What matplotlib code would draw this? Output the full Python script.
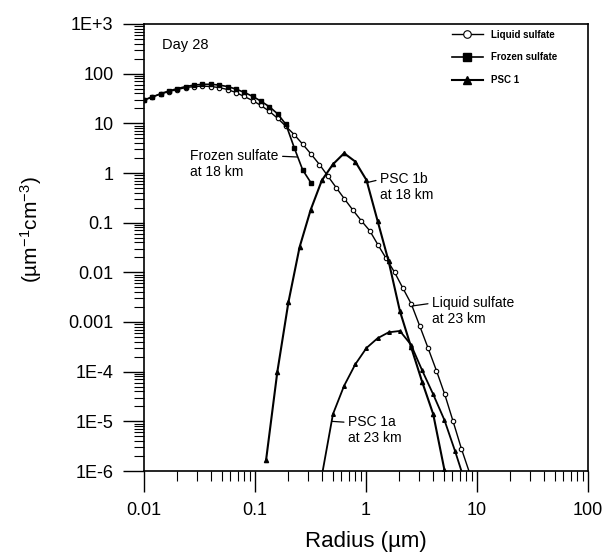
import matplotlib.pyplot as plt
from matplotlib.ticker import LogLocator, NullFormatter

plt.rcParams['font.family'] = ['Liberation Sans', 'DejaVu Sans']
plt.rcParams['mathtext.fontset'] = 'custom'
plt.rcParams['mathtext.rm'] = 'Liberation Sans'
plt.rcParams['mathtext.it'] = 'Liberation Sans:italic'

# liquid sulfate size distribution (um^-1 cm^-3)
liquid_radius = [0.0100, 0.0119, 0.0141, 0.0168, 0.0200, 0.0238, 0.0283, 0.0336,
                 0.0400, 0.0476, 0.0566, 0.0673, 0.0800, 0.0951, 0.113, 0.135,
                 0.160, 0.190, 0.226, 0.269, 0.320, 0.381, 0.453, 0.538,
                 0.640, 0.761, 0.905, 1.08, 1.28, 1.52, 1.81, 2.15,
                 2.56, 3.05, 3.62, 4.31, 5.12, 6.09, 7.24, 8.61]
liquid_n = [29.5, 33.9, 38.9, 43.7, 47.9, 52.5, 55.0, 56.2,
            55.0, 52.5, 47.9, 41.7, 34.7, 28.8, 22.9, 17.4,
            12.6, 8.7, 5.9, 3.8, 2.4, 1.48, 0.87, 0.51,
            0.30, 0.18, 0.11, 0.069, 0.036, 0.019, 0.010, 0.0048,
            0.0023, 8.3e-4, 3.0e-4, 1.05e-4, 3.5e-5, 1.0e-5, 2.8e-6, 8.9e-7]

# frozen sulfate at 18 km
frozen_radius = [0.0100, 0.0119, 0.0141, 0.0168, 0.0200, 0.0238, 0.0283, 0.0336,
                 0.0400, 0.0476, 0.0566, 0.0673, 0.0800, 0.0951, 0.113, 0.135,
                 0.160, 0.190, 0.226, 0.269, 0.320]
frozen_n = [29.5, 34, 39.5, 45, 50, 55, 59, 61,
            61, 59, 55, 49, 42, 35, 28, 21.5,
            15.5, 9.5, 3.2, 1.15, 0.63]

# PSC 1b at 18 km
psc1b_radius = [0.126, 0.159, 0.200, 0.252, 0.317, 0.400, 0.504, 0.635, 0.800,
                1.01, 1.27, 1.60, 2.02, 2.54, 3.20, 4.03, 5.08]
psc1b_n = [1.7e-6, 1.0e-4, 2.5e-3, 0.032, 0.18, 0.71, 1.5, 2.5, 1.7,
           0.72, 0.11, 0.0166, 1.66e-3, 3.2e-4, 6.3e-5, 1.4e-5, 1.07e-6]

# PSC 1a at 23 km
psc1a_radius = [0.400, 0.504, 0.635, 0.800, 1.01, 1.27, 1.60, 2.02, 2.54,
                3.20, 4.03, 5.08, 6.35, 8.00]
psc1a_n = [8e-7, 1.4e-5, 5.2e-5, 1.4e-4, 3.0e-4, 4.7e-4, 6.2e-4, 6.6e-4, 3.5e-4,
           1.07e-4, 3.5e-5, 1.07e-5, 2.5e-6, 5e-7]

x_ticks = [0.01, 0.1, 1, 10, 100]
x_tick_labels = ['0.01', '0.1', '1', '10', '100']
y_ticks = [1e3, 1e2, 1e1, 1, 0.1, 0.01, 0.001, 1e-4, 1e-5, 1e-6]
y_tick_labels = ['1E+3', '100', '10', '1', '0.1', '0.01', '0.001', '1E-4', '1E-5', '1E-6']

fig = plt.figure(figsize=(6.1, 5.58), dpi=100)
ax = fig.add_axes([144 / 610, 1 - 471 / 558, 444 / 610, 447 / 558])

ax.plot(liquid_radius, liquid_n, color='black', lw=1.0, marker='o', ms=3.2,
        mfc='white', mec='black', mew=0.8, label='Liquid sulfate')
ax.plot(frozen_radius, frozen_n, color='black', lw=1.2, marker='s', ms=3.0,
        mfc='black', mec='black', label='Frozen sulfate')
ax.plot(psc1b_radius, psc1b_n, color='black', lw=1.5, marker='^', ms=3.0,
        mfc='black', mec='black', label='PSC 1')
ax.plot(psc1a_radius, psc1a_n, color='black', lw=1.3, marker='^', ms=2.6,
        mfc='black', mec='black')

ax.set_xscale('log')
ax.set_yscale('log')
ax.set_xlim(0.01, 100)
ax.set_ylim(1e-6, 1e3)
ax.set_xticks(x_ticks, x_tick_labels)
ax.set_yticks(y_ticks, y_tick_labels)
for axis in (ax.xaxis, ax.yaxis):
    axis.set_minor_locator(LogLocator(base=10, subs=range(2, 10), numticks=100))
    axis.set_minor_formatter(NullFormatter())
ax.tick_params(which='major', direction='out', length=15, width=1.0,
               labelsize=13, pad=7)
ax.tick_params(which='minor', direction='out', length=7, width=0.8)
for sp in ax.spines.values():
    sp.set_linewidth(1.2)

ax.set_xlabel('Radius (µm)', fontsize=16, labelpad=9)
ax.set_ylabel(r'(µm$^{-1}$cm$^{-3}$)', fontsize=15)
ax.yaxis.set_label_coords(-0.225, 0.54)

leg = ax.legend(loc='upper left', bbox_to_anchor=(0.68, 1.0), frameon=False,
                prop={'weight': 'bold', 'size': 7}, markerscale=1.7,
                handlelength=3.2, labelspacing=1.3, handletextpad=0.8,
                borderaxespad=0.2)

ax.text(0.0145, 380, 'Day 28', fontsize=10.5, ha='left', va='center')

line_style = dict(arrowstyle='-', color='black', lw=0.9, shrinkA=1, shrinkB=0)
ax.annotate('Frozen sulfate\nat 18 km', xy=(0.24, 2.1), xytext=(0.026, 3.1),
            fontsize=10, ha='left', va='top',
            arrowprops=dict(relpos=(1.0, 0.75), **line_style))
ax.annotate('PSC 1b\nat 18 km', xy=(1.05, 0.65), xytext=(1.34, 1.05),
            fontsize=10, ha='left', va='top',
            arrowprops=dict(relpos=(0.0, 0.75), **line_style))
ax.annotate('Liquid sulfate\nat 23 km', xy=(2.6, 0.0021), xytext=(3.94, 3.4e-3),
            fontsize=10, ha='left', va='top',
            arrowprops=dict(relpos=(0.0, 0.75), **line_style))
ax.annotate('PSC 1a\nat 23 km', xy=(0.49, 1.0e-5), xytext=(0.69, 1.35e-5),
            fontsize=10, ha='left', va='top',
            arrowprops=dict(relpos=(0.0, 0.75), **line_style))

fig.savefig('out.png', dpi=100)
